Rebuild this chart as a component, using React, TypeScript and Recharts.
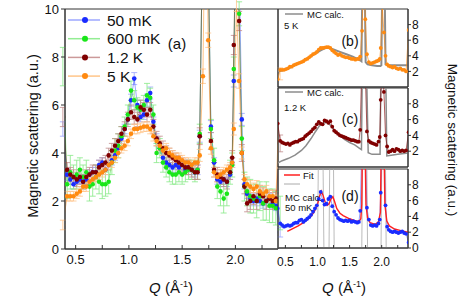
import React from "react";
import { ComposedChart, Line, XAxis, YAxis, ErrorBar, ReferenceArea } from "recharts";

// Q grid shared by the four temperature scans (Å^-1)
const qGrid = [
  0.38, 0.42, 0.45, 0.48, 0.51, 0.54, 0.57, 0.6, 0.63, 0.66,
  0.69, 0.72, 0.75, 0.78, 0.81, 0.84, 0.87, 0.9, 0.93, 0.96,
  0.99, 1.02, 1.05, 1.08, 1.11, 1.14, 1.17, 1.2, 1.23, 1.26,
  1.29, 1.32, 1.35, 1.38, 1.41, 1.44, 1.47, 1.5, 1.53, 1.56,
  1.59, 1.62, 1.645, 1.665, 1.695, 1.72, 1.745, 1.77, 1.8, 1.83,
  1.86, 1.89, 1.92, 1.95, 1.97, 1.985, 2.01, 2.035, 2.06, 2.085,
  2.11, 2.14, 2.17, 2.2, 2.23, 2.26, 2.29, 2.32, 2.35, 2.38, 2.42,
];

const s50mK = [
  5.0, 3.1, 2.9, 2.7, 2.8, 2.9, 2.8, 2.9, 3.1, 3.2,
  3.2, 3.5, 3.6, 3.3, 3.5, 3.7, 3.9, 4.2, 4.6, 5.0,
  5.4, 6.2, 7.1, 6.0, 5.5, 5.6, 6.2, 6.5, 5.3, 4.6,
  4.2, 3.8, 3.6, 3.5, 3.4, 3.5, 3.4, 3.5, 3.3, 3.4,
  3.3, 3.2, 3.3, 4.7, 14, 16, 12, 5.1, 3.6, 2.9,
  2.8, 2.9, 2.8, 3.1, 3.6, 7.0, 16, 12, 5.4, 2.7,
  2.3, 2.1, 2.0, 2.1, 2.0, 1.9, 2.0, 2.1, 1.9, 1.8, 0.7,
];
const e50mK = [
  0.3, 0.25, 0.2, 0.2, 0.2, 0.2, 0.2, 0.2, 0.2, 0.2,
  0.2, 0.2, 0.2, 0.2, 0.2, 0.2, 0.2, 0.2, 0.2, 0.2,
  0.2, 0.25, 0.25, 0.2, 0.2, 0.2, 0.25, 0.25, 0.2, 0.2,
  0.2, 0.2, 0.2, 0.2, 0.2, 0.2, 0.2, 0.2, 0.2, 0.2,
  0.2, 0.2, 0.2, 0.25, 0.3, 0.3, 0.3, 0.25, 0.2, 0.2,
  0.2, 0.2, 0.2, 0.2, 0.2, 0.25, 0.3, 0.3, 0.25, 0.2,
  0.2, 0.2, 0.2, 0.2, 0.2, 0.2, 0.2, 0.2, 0.2, 0.2, 0.2,
];

const s600mK = [
  7.6, 2.7, 3.2, 3.0, 3.1, 3.3, 3.0, 3.2, 2.6, 2.7,
  3.0, 2.8, 2.7, 2.7, 2.8, 3.6, 4.1, 4.3, 4.7, 5.1,
  5.6, 6.6, 6.2, 5.9, 5.8, 6.0, 6.4, 6.3, 5.6, 4.0,
  4.2, 3.6, 3.4, 3.2, 3.1, 3.1, 3.2, 3.1, 3.2, 3.3,
  3.3, 3.2, 3.3, 4.8, 14, 16, 12, 5.0, 3.7, 2.6,
  2.4, 2.1, 2.3, 3.2, 3.5, 7.5, 16, 9.8, 4.6, 2.6,
  2.4, 2.2, 2.1, 2.0, 2.2, 1.9, 2.0, 1.8, 1.8, 1.7, 1.5,
];
const e600mK = [
  0.8, 0.6, 0.7, 0.5, 0.6, 0.5, 0.5, 0.5, 0.6, 0.5,
  0.5, 0.5, 0.6, 0.5, 0.5, 0.5, 0.5, 0.5, 0.4, 0.4,
  0.4, 0.4, 0.4, 0.4, 0.4, 0.4, 0.5, 0.4, 0.4, 0.4,
  0.4, 0.4, 0.4, 0.4, 0.4, 0.4, 0.4, 0.4, 0.4, 0.4,
  0.4, 0.4, 0.4, 0.4, 0.5, 0.5, 0.5, 0.4, 0.5, 0.5,
  0.6, 0.6, 0.5, 0.5, 0.5, 0.5, 0.5, 0.5, 0.5, 0.6,
  0.6, 0.7, 0.6, 0.7, 0.6, 0.7, 0.8, 0.7, 0.7, 0.7, 0.7,
];

const s1p2K = [
  5.5, 3.3, 3.1, 3.0, 2.9, 3.0, 2.8, 3.0, 3.1, 3.2,
  3.2, 3.4, 3.5, 3.6, 3.9, 4.1, 4.3, 4.5, 4.8, 5.0,
  5.4, 5.7, 5.5, 5.4, 5.9, 5.8, 5.6, 5.8, 5.1, 4.6,
  4.4, 4.2, 4.0, 3.9, 3.8, 3.7, 3.6, 3.5, 3.4, 3.4,
  3.3, 3.2, 3.2, 4.7, 14, 16, 12, 4.5, 3.3, 3.1,
  3.0, 2.9, 2.8, 3.2, 3.8, 8.5, 14, 9.5, 4.0, 2.6,
  1.9, 2.0, 2.2, 2.0, 2.3, 2.2, 2.0, 2.1, 2.0, 2.1, 4.4,
];
const e1p2K = [
  0.4, 0.3, 0.3, 0.3, 0.3, 0.3, 0.3, 0.3, 0.3, 0.3,
  0.3, 0.3, 0.3, 0.3, 0.3, 0.3, 0.3, 0.3, 0.3, 0.3,
  0.3, 0.3, 0.3, 0.3, 0.3, 0.3, 0.3, 0.3, 0.3, 0.3,
  0.3, 0.3, 0.3, 0.3, 0.3, 0.3, 0.3, 0.3, 0.3, 0.3,
  0.3, 0.3, 0.3, 0.35, 0.4, 0.4, 0.4, 0.35, 0.3, 0.3,
  0.3, 0.3, 0.3, 0.3, 0.3, 0.4, 0.4, 0.4, 0.35, 0.3,
  0.35, 0.35, 0.35, 0.35, 0.35, 0.35, 0.35, 0.35, 0.35, 0.35, 0.35,
];

const s5K = [
  1.0, 2.2, 2.2, 2.2, 2.3, 2.4, 2.6, 2.6, 2.8, 2.9,
  3.0, 3.1, 3.2, 3.3, 3.5, 3.6, 3.8, 4.0, 4.2, 4.3,
  4.5, 4.8, 5.0, 5.0, 5.05, 5.1, 5.1, 5.0, 4.7, 4.5,
  4.3, 4.1, 4.2, 4.0, 3.9, 3.8, 3.8, 3.7, 3.6, 3.6,
  3.5, 3.6, 3.6, 3.9, 7.2, 16, 8.7, 4.2, 3.2, 3.0,
  3.1, 3.2, 3.3, 3.4, 3.6, 5.0, 10.2, 7.0, 4.0, 2.9,
  2.7, 2.6, 2.5, 2.6, 2.4, 2.3, 2.4, 2.2, 2.2, 2.0, 7.3,
];
const e5K = [
  0.2, 0.2, 0.2, 0.2, 0.2, 0.2, 0.2, 0.2, 0.2, 0.2,
  0.2, 0.2, 0.2, 0.2, 0.2, 0.2, 0.2, 0.2, 0.2, 0.2,
  0.2, 0.2, 0.2, 0.2, 0.2, 0.2, 0.2, 0.2, 0.2, 0.2,
  0.2, 0.2, 0.2, 0.2, 0.2, 0.2, 0.2, 0.2, 0.2, 0.2,
  0.2, 0.2, 0.2, 0.25, 0.3, 0.3, 0.3, 0.25, 0.2, 0.2,
  0.2, 0.2, 0.2, 0.2, 0.2, 0.25, 0.3, 0.3, 0.25, 0.2,
  0.25, 0.25, 0.25, 0.25, 0.25, 0.25, 0.25, 0.25, 0.25, 0.25, 0.25,
];

// MC calculation, 5 K (panel b)
const mc5KQ = [0.38, 0.45, 0.55, 0.65, 0.75, 0.85, 0.95, 1.05, 1.12, 1.18, 1.25, 1.35, 1.45, 1.55, 1.62, 1.67, 1.685, 1.7, 1.735, 1.75, 1.78, 1.85, 1.93, 1.98, 1.995, 2.01, 2.045, 2.06, 2.1, 2.2, 2.3, 2.42];
const mc5K = [2.0, 2.1, 2.4, 2.8, 3.2, 3.7, 4.2, 4.7, 5.0, 5.0, 4.8, 4.5, 4.2, 3.9, 3.6, 3.4, 3.3, 14, 14, 3.2, 2.9, 2.8, 2.7, 2.7, 2.8, 14, 14, 2.9, 2.8, 2.8, 2.8, 2.8];

// MC calculation, 1.2 K (panel c)
const mc1p2KQ = [0.38, 0.45, 0.55, 0.65, 0.75, 0.82, 0.9, 0.97, 1.03, 1.1, 1.15, 1.2, 1.27, 1.35, 1.42, 1.5, 1.58, 1.65, 1.685, 1.7, 1.76, 1.79, 1.85, 1.92, 1.975, 1.99, 2.06, 2.08, 2.15, 2.25, 2.35, 2.42];
const mc1p2K = [0.5, 0.8, 1.1, 1.5, 2.1, 2.7, 3.6, 4.5, 5.2, 5.6, 5.6, 5.3, 4.6, 4.0, 3.5, 3.1, 2.8, 2.4, 2.2, 14, 14, 1.8, 1.6, 1.6, 1.6, 14, 14, 1.4, 1.5, 1.6, 1.7, 1.8];

// MC calculation, 50 mK (panel d): sharp peaks
const mc50mKQ = [0.38, 1.0, 1.05, 1.1, 1.18, 1.22, 1.26, 1.69, 1.735, 1.78, 1.99, 2.03, 2.07, 2.42];
const mc50mK = [0, 0, 40, 0, 0, 40, 0, 0, 40, 0, 0, 40, 0, 0];

// Fit, 50 mK (panel d)
const fitQ = [0.53, 0.6, 0.7, 0.8, 0.9, 0.95, 1.0, 1.03, 1.06, 1.09, 1.12, 1.15, 1.18, 1.21, 1.24, 1.27, 1.3, 1.35, 1.4, 1.5, 1.6, 1.65, 1.675, 1.69, 1.7, 1.74, 1.755, 1.78, 1.82, 1.9, 1.95, 1.98, 1.995, 2.035, 2.05, 2.08, 2.12, 2.2, 2.3, 2.41];
const fit50mK = [2.1, 2.4, 2.8, 3.3, 4.0, 4.6, 5.5, 6.5, 7.2, 6.6, 5.8, 5.4, 5.6, 6.2, 6.5, 5.8, 5.0, 4.4, 4.1, 3.7, 3.4, 3.4, 3.7, 5.5, 14, 14, 5.5, 3.8, 3.2, 3.0, 3.3, 4.5, 14, 14, 5.5, 3.4, 2.8, 2.4, 2.2, 2.0];

const qTicks = [0.5, 0.75, 1.0, 1.25, 1.5, 1.75, 2.0, 2.25];
const mainYTicks = [0, 2, 4, 6, 8, 10];

const build = (qs: number[], vs: number[], es?: number[]) =>
  qs.map((q, i) => ({ q, v: vs[i], e: es ? es[i] : 0 }));

const fmtQ = (q: number) => ((q * 2) % 1 === 0 ? q.toFixed(1) : "");

const FONT = "'Liberation Sans', Arial, sans-serif";
const AXIS = "#333";

const series = [
  { name: "50 mK", data: build(qGrid, s50mK, e50mK), dot: "#1a2cff", line: "rgba(60,80,255,0.5)", err: "#9aa4ff" },
  { name: "600 mK", data: build(qGrid, s600mK, e600mK), dot: "#19e619", line: "rgba(40,220,40,0.5)", err: "#88ea88" },
  { name: "1.2 K", data: build(qGrid, s1p2K, e1p2K), dot: "#800000", line: "rgba(128,0,0,0.4)", err: "#c08a8a" },
  { name: "5 K", data: build(qGrid, s5K, e5K), dot: "#ff8a10", line: "rgba(255,140,20,0.5)", err: "#ffc48a" },
];

const MQ: [number, number] = [0.4, 2.4];
const RQ: [number, number] = [0.385, 2.41];

function MainPanel() {
  return (
    <ComposedChart width={290} height={296} margin={{ top: 9, right: 12, bottom: 17, left: 25 }}>
      <XAxis
        type="number"
        dataKey="q"
        domain={MQ}
        allowDataOverflow
        ticks={qTicks}
        interval={0}
        tickFormatter={fmtQ}
        tickSize={-4}
        tickMargin={10}
        height={30}
        stroke={AXIS}
        tick={{ fill: "#111", fontSize: 13, fontFamily: FONT }}
      />
      <YAxis
        type="number"
        domain={[0, 10]}
        allowDataOverflow
        ticks={mainYTicks}
        interval={0}
        width={40}
        tickSize={4}
        tickMargin={2}
        stroke={AXIS}
        tick={{ fill: "#111", fontSize: 13, fontFamily: FONT }}
      />
      <ReferenceArea x1={MQ[0]} x2={MQ[1]} y1={0} y2={10} fill="none" stroke={AXIS} strokeWidth={1} />
      {series.map((s) => (
        <Line
          key={s.name}
          data={s.data}
          dataKey="v"
          stroke={s.line}
          strokeWidth={1}
          dot={{ r: 2.3, fill: s.dot, stroke: "none" }}
          activeDot={false}
          isAnimationActive={false}
        >
          <ErrorBar dataKey="e" width={3} stroke={s.err} strokeWidth={0.8} direction="y" />
        </Line>
      ))}
    </ComposedChart>
  );
}

function SidePanel({
  height,
  mt,
  xh,
  mb,
  yTicks,
  showX,
  children,
}: {
  height: number;
  mt: number;
  xh: number;
  mb: number;
  yTicks: number[];
  showX: boolean;
  children: React.ReactNode;
}) {
  return (
    <ComposedChart width={194} height={height} margin={{ top: mt, right: 26, bottom: mb, left: 8 }}>
      <XAxis
        type="number"
        dataKey="q"
        domain={RQ}
        allowDataOverflow
        ticks={qTicks}
        interval={0}
        tickFormatter={fmtQ}
        tickSize={-3}
        tickMargin={12}
        height={xh}
        stroke={AXIS}
        tick={showX ? { fill: "#111", fontSize: 12, fontFamily: FONT } : false}
      />
      <YAxis
        type="number"
        orientation="right"
        domain={[0, 10]}
        allowDataOverflow
        ticks={yTicks}
        interval={0}
        width={30}
        tickSize={3}
        tickMargin={1}
        stroke={AXIS}
        tick={{ fill: "#111", fontSize: 12, fontFamily: FONT, textAnchor: "start" }}
      />
      <ReferenceArea x1={RQ[0]} x2={RQ[1]} y1={0} y2={10} fill="none" stroke={AXIS} strokeWidth={1} />
      {children}
    </ComposedChart>
  );
}

function Overlay() {
  const t = { fontFamily: FONT, fill: "#111" } as const;
  return (
    <svg width={464} height={296} style={{ position: "absolute", left: 0, top: 0, pointerEvents: "none" }}>
      {/* legend of panel (a) */}
      {series.map((s, i) => {
        const y = 20 + i * 18.7;
        return (
          <g key={s.name}>
            <line x1={68} x2={100} y1={y} y2={y} stroke={s.line} strokeWidth={1.5} />
            <circle cx={85} cy={y} r={3} fill={s.dot} />
            <text x={107} y={y} dominantBaseline="central" fontSize={15.5} {...t}>
              {s.name}
            </text>
          </g>
        );
      })}
      <text x={177} y={43} textAnchor="middle" dominantBaseline="central" fontSize={15} {...t}>(a)</text>
      <text x={350} y={41} textAnchor="middle" dominantBaseline="central" fontSize={14} {...t}>(b)</text>
      <text x={350} y={119} textAnchor="middle" dominantBaseline="central" fontSize={14} {...t}>(c)</text>
      <text x={350} y={196} textAnchor="middle" dominantBaseline="central" fontSize={14} {...t}>(d)</text>

      {/* legend of panel (b) */}
      <line x1={285} x2={303} y1={14} y2={14} stroke="#8c8c8c" strokeWidth={1.5} />
      <text x={307} y={14} dominantBaseline="central" fontSize={9.5} {...t}>MC calc.</text>
      <text x={284} y={25} dominantBaseline="central" fontSize={9.5} {...t}>5 K</text>

      {/* legend of panel (c) */}
      <line x1={285} x2={303} y1={92} y2={92} stroke="#8c8c8c" strokeWidth={1.5} />
      <text x={307} y={92} dominantBaseline="central" fontSize={9.5} {...t}>MC calc.</text>
      <text x={284} y={107} dominantBaseline="central" fontSize={9.5} {...t}>1.2 K</text>

      {/* legend of panel (d) */}
      <line x1={284} x2={300} y1={175} y2={175} stroke="#ff2020" strokeWidth={1.5} />
      <text x={303} y={175} dominantBaseline="central" fontSize={9.5} {...t}>Fit</text>
      <line x1={284} x2={300} y1={184} y2={184} stroke="#aaa" strokeWidth={1} />
      <text x={285} y={197} dominantBaseline="central" fontSize={9.5} {...t}>MC calc.</text>
      <text x={285} y={207} dominantBaseline="central" fontSize={9.5} {...t}>50 mK</text>

      {/* axis titles */}
      <text transform="translate(33,136) rotate(-90)" textAnchor="middle" dominantBaseline="central" fontSize={14.5} {...t}>
        Magnetic scattering (a.u.)
      </text>
      <text transform="translate(452,140) rotate(90)" textAnchor="middle" dominantBaseline="central" fontSize={13.5} {...t}>
        Magnetic scattering (a.u.)
      </text>
      <text x={171} y={293} textAnchor="middle" fontSize={15} {...t}>
        <tspan fontStyle="italic">Q</tspan> (Å<tspan dy={-6} fontSize={9}>-1</tspan><tspan dy={6}>)</tspan>
      </text>
      <text x={344} y={293} textAnchor="middle" fontSize={15} {...t}>
        <tspan fontStyle="italic">Q</tspan> (Å<tspan dy={-6} fontSize={9}>-1</tspan><tspan dy={6}>)</tspan>
      </text>
    </svg>
  );
}

export default function App() {
  const d5K = series[3].data;
  const d1p2K = series[2].data;
  const d50mK = series[0].data;
  return (
    <div style={{ position: "absolute", left: 0, top: 0, width: 464, height: 296, background: "#fff", fontFamily: FONT }}>
      <div style={{ position: "absolute", left: 0, top: 0 }}>
        <MainPanel />
      </div>
      <div style={{ position: "absolute", left: 270, top: 0 }}>
        <SidePanel height={96} mt={9} xh={9} mb={0} yTicks={[2, 4, 6, 8]} showX={false}>
          <Line data={build(mc5KQ, mc5K)} dataKey="v" stroke="#8c8c8c" strokeWidth={2} dot={false} activeDot={false} isAnimationActive={false} />
          <Line data={d5K} dataKey="v" stroke="rgba(255,140,20,0.8)" strokeWidth={0.8} dot={{ r: 1.9, fill: "#ff8a10", stroke: "none" }} activeDot={false} isAnimationActive={false} />
        </SidePanel>
      </div>
      <div style={{ position: "absolute", left: 270, top: 80 }}>
        <SidePanel height={96} mt={8} xh={9} mb={0} yTicks={[2, 4, 6, 8]} showX={false}>
          <Line data={build(mc1p2KQ, mc1p2K)} dataKey="v" stroke="#8c8c8c" strokeWidth={1.5} dot={false} activeDot={false} isAnimationActive={false} />
          <Line data={d1p2K} dataKey="v" stroke="rgba(128,0,0,0.8)" strokeWidth={0.8} dot={{ r: 1.9, fill: "#800000", stroke: "none" }} activeDot={false} isAnimationActive={false} />
        </SidePanel>
      </div>
      <div style={{ position: "absolute", left: 270, top: 160 }}>
        <SidePanel height={136} mt={9} xh={30} mb={18} yTicks={[0, 2, 4, 6, 8]} showX>
          <Line data={build(mc50mKQ, mc50mK)} dataKey="v" stroke="#aaa" strokeWidth={0.8} dot={false} activeDot={false} isAnimationActive={false} />
          <Line data={d50mK} dataKey="v" stroke="rgba(40,60,255,0.6)" strokeWidth={0.8} dot={{ r: 1.9, fill: "#1a2cff", stroke: "none" }} activeDot={false} isAnimationActive={false} />
          <Line data={build(fitQ, fit50mK)} dataKey="v" stroke="#ff2020" strokeWidth={1.4} dot={false} activeDot={false} isAnimationActive={false} />
        </SidePanel>
      </div>
      <Overlay />
    </div>
  );
}
